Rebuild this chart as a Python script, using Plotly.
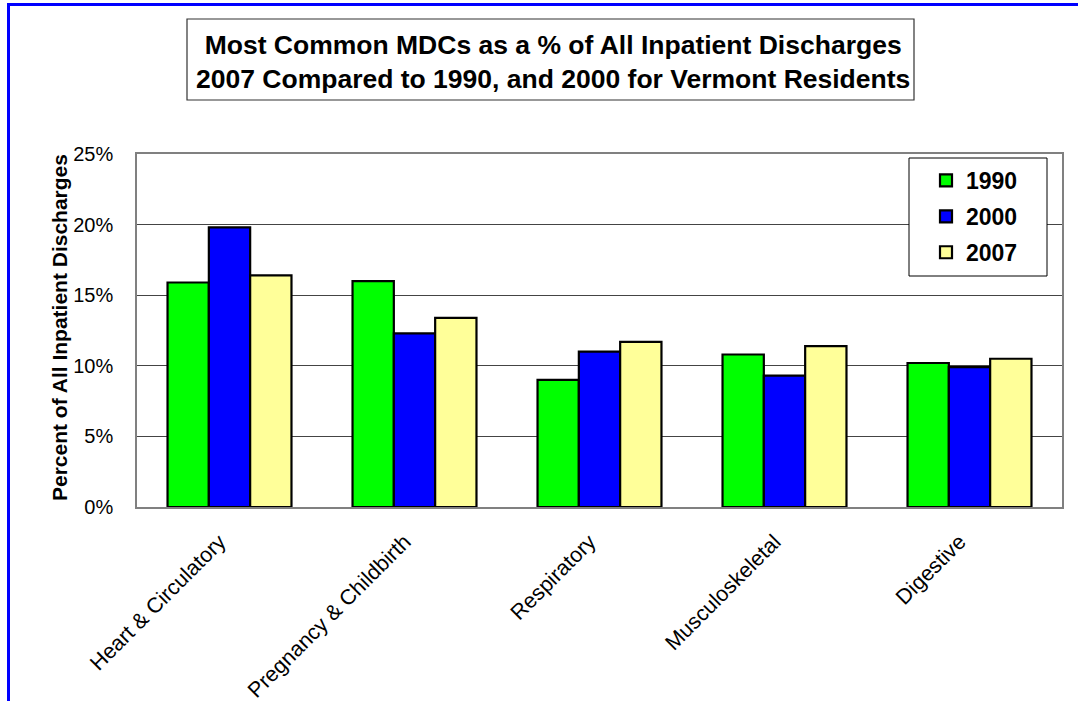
import plotly.graph_objects as go

categories = ["Heart & Circulatory", "Pregnancy & Childbirth", "Respiratory", "Musculoskeletal", "Digestive"]
years = ["1990", "2000", "2007"]
v1990 = [15.9, 16.0, 9.0, 10.8, 10.2]
v2000 = [19.8, 12.3, 11.0, 9.3, 9.9]
v2007 = [16.4, 13.4, 11.7, 11.4, 10.5]
colors = ["#00FF00", "#0000FF", "#FFFF99"]
y_ticks = [0, 5, 10, 15, 20, 25]
y_tick_labels = ["0%", "5%", "10%", "15%", "20%", "25%"]
title_lines = ["Most Common MDCs as a % of All Inpatient Discharges",
               "2007 Compared to 1990, and 2000 for Vermont Residents"]
y_title = "Percent of All Inpatient Discharges"

W, H = 1078, 701
L, R, T, B = 137, 1062, 154, 507  # plot area pixels

def px(x):
    return (x - L) / (R - L)

def py(y):
    return (B - y) / (B - T)

FONT = "Liberation Sans, Arial, sans-serif"

fig = go.Figure()
for yr, vals, col in zip(years, [v1990, v2000, v2007], colors):
    fig.add_trace(go.Bar(
        x=categories, y=vals, name=yr, legendgroup=yr,
        marker=dict(color=col, line=dict(color="black", width=2.2)),
    ))

fig.update_layout(
    width=W, height=H,
    margin=dict(l=L, r=W - R, t=T, b=H - B, pad=0, autoexpand=False),
    paper_bgcolor="white", plot_bgcolor="white",
    barmode="group", bargap=0.33, bargroupgap=0,
    font=dict(family=FONT, color="black"),
    showlegend=True,
    legend=dict(
        x=px(926), y=py(159), xanchor="left", yanchor="top",
        borderwidth=0, bgcolor="rgba(0,0,0,0)",
        font=dict(size=23, family=FONT, weight="bold"),
        tracegroupgap=3, itemwidth=30,
    ),
    xaxis=dict(
        tickangle=-45, tickfont=dict(size=21.5, family=FONT), automargin=False,
        showline=True, linecolor="#808080", linewidth=1.5, mirror=True,
        showgrid=False, ticks="", ticklabelstandoff=12, ticklabelshift=-10,
    ),
    yaxis=dict(
        range=[0, 25], tickvals=y_ticks, ticktext=y_tick_labels, automargin=False,
        tickfont=dict(size=20, family=FONT),
        showgrid=True, gridcolor="#444444", gridwidth=1.2,
        showline=True, linecolor="#808080", linewidth=1.5, mirror=True,
        ticks="", ticklabelstandoff=18, zeroline=False,
    ),
    shapes=[
        # outer blue border (left and top visible)
        dict(type="line", xref="paper", yref="paper", x0=px(8.5), x1=px(8.5), y0=py(3), y1=py(705),
             line=dict(color="#0000FF", width=3)),
        dict(type="line", xref="paper", yref="paper", x0=px(7), x1=px(1080), y0=py(4.5), y1=py(4.5),
             line=dict(color="#0000FF", width=3)),
        # title box
        dict(type="rect", xref="paper", yref="paper", x0=px(187), x1=px(914), y0=py(19), y1=py(100),
             line=dict(color="#333333", width=1.2), fillcolor="white", layer="below"),
        # legend box
        dict(type="rect", xref="paper", yref="paper", x0=px(909), x1=px(1047), y0=py(158), y1=py(276),
             line=dict(color="black", width=1), fillcolor="white", layer="above"),
    ],
    annotations=[
        dict(xref="paper", yref="paper", x=px(553), y=py(61.5), xanchor="center", yanchor="middle",
             text="<b>" + "<br>".join(title_lines) + "</b>", showarrow=False,
             font=dict(size=26.5, family=FONT, color="black"), align="center"),
        dict(xref="paper", yref="paper", x=px(59), y=py(328), xanchor="center", yanchor="middle",
             text="<b>" + y_title + "</b>", showarrow=False, textangle=-90,
             font=dict(size=21, family=FONT, color="black")),
    ],
)

fig.write_html("out.html", config={"displayModeBar": False},
               post_script="document.body.style.margin='0';document.body.style.overflow='hidden';")
